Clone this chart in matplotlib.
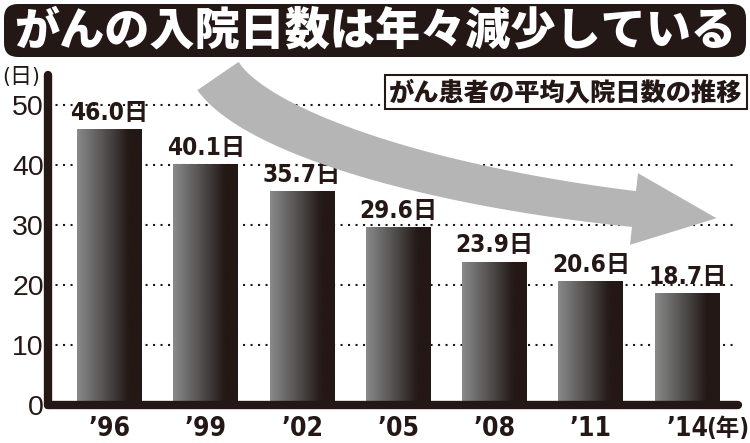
import numpy as np
from matplotlib import pyplot as plt
from matplotlib.colors import LinearSegmentedColormap
from matplotlib.patches import FancyBboxPatch, Rectangle, Polygon
from matplotlib.transforms import IdentityTransform

W, H = 750, 443
INK = '#231815'

years = ["’96", "’99", "’02", "’05", "’08", "’11", "’14"]
days = [46.0, 40.1, 35.7, 29.6, 23.9, 20.6, 18.7]
value_labels = ["46.0日", "40.1日", "35.7日", "29.6日", "23.9日", "20.6日", "18.7日"]
yticks = [0, 10, 20, 30, 40, 50]

title = "がんの入院日数は年々減少している"
subtitle = "がん患者の平均入院日数の推移"

cjk = 'Noto Sans CJK JP'
narrow = ['DejaVu Sans', cjk]

fig = plt.figure(figsize=(W / 100, H / 100), dpi=100)
ax = fig.add_axes([48 / W, (H - 405) / H, (738 - 48) / W, 330 / H])

# dotted grid
for v in yticks[1:]:
    ax.axhline(v, color=INK, lw=1.5, ls=(0, (1, 2.6)), zorder=1)

# gradient bars
cmap = LinearSegmentedColormap.from_list('bar', [(0, '#8a8a8a'), (0.45, '#4f4d4c'), (0.8, INK), (1, INK)])
grad = np.linspace(0, 1, 256).reshape(1, -1)
bw = 0.675
for i, v in enumerate(days):
    rect = Rectangle((i - bw / 2, 0), bw, v, fc='none', ec='none')
    ax.add_patch(rect)
    im = ax.imshow(grad, cmap=cmap, extent=(i - bw / 2, i + bw / 2, 0, v), aspect='auto', zorder=2)
    im.set_clip_path(rect)
    ax.annotate(value_labels[i], (i, v), xytext=(0, 3), textcoords='offset points',
                ha='center', va='bottom', fontsize=17.5, fontweight='bold', fontstretch='condensed',
                family=narrow, color=INK)

ax.set_xlim(-0.639, 6.527)
ax.set_ylim(0, 55)
ax.set_xticks(range(len(years)))
ax.set_xticklabels(years, family=narrow, fontweight='bold', fontstretch='condensed', fontsize=19, color=INK)
ax.set_yticks(yticks)
ax.set_yticklabels([str(t) for t in yticks], family='Liberation Sans', fontsize=20.5, color=INK)
ax.tick_params(length=0, pad=3)
ax.tick_params(axis='x', pad=8)
for s in ['top', 'right']:
    ax.spines[s].set_visible(False)
for s in ['left', 'bottom']:
    ax.spines[s].set_linewidth(6)
    ax.spines[s].set_color(INK)
    ax.spines[s].set_capstyle('round')
    ax.spines[s].set_zorder(3)

fig.text(706 / W, 1 - 429 / H, "(年)", family=narrow, fontweight='bold', fontstretch='condensed',
         fontsize=17, color=INK, va='center', ha='left')
fig.text(21 / W, 1 - 77 / H, "(日)", family=narrow, fontstretch='condensed', fontsize=16,
         color=INK, va='center', ha='center')

# title banner
banner = FancyBboxPatch((4, H - 57), 742, 53, boxstyle='round,pad=0,rounding_size=14',
                        fc=INK, ec='none', transform=IdentityTransform())
fig.add_artist(banner)
fig.text(375 / W, 1 - 31 / H, title, family=cjk, fontweight='black', fontsize=32.5,
         color='white', ha='center', va='center')

# subtitle box
fig.text(566 / W, 1 - 92 / H, subtitle, family=cjk, fontweight='black', fontsize=18.2, color=INK,
         ha='center', va='center',
         bbox=dict(boxstyle='square,pad=0.15', fc='white', ec=INK, lw=1.5))

# big curved grey arrow (pixel coords, y down)
P = np.array([[218, 76], [255, 130], [420, 185], [634, 209]], float)
t = np.linspace(0, 1, 60)[:, None]
pts = (1 - t) ** 3 * P[0] + 3 * (1 - t) ** 2 * t * P[1] + 3 * (1 - t) * t ** 2 * P[2] + t ** 3 * P[3]
d = 3 * (1 - t) ** 2 * (P[1] - P[0]) + 6 * (1 - t) * t * (P[2] - P[1]) + 3 * t ** 2 * (P[3] - P[2])
d = d / np.linalg.norm(d, axis=1, keepdims=True)
nrm = np.column_stack([-d[:, 1], d[:, 0]])
hw = (25 - 7 * t)
upper = pts - nrm * hw
lower = pts + nrm * hw
end_dir = d[-1]
end_n = nrm[-1]
tip = P[3] + end_dir * 83
head = [P[3] - end_n * 36, tip, P[3] + end_n * 36]
poly = np.vstack([upper, head, lower[::-1]])
poly[:, 1] = H - poly[:, 1]
arrow = Polygon(poly, closed=True, fc='#b5b5b5', ec='none', transform=IdentityTransform())
fig.add_artist(arrow)

fig.savefig('out.png', dpi=100)
